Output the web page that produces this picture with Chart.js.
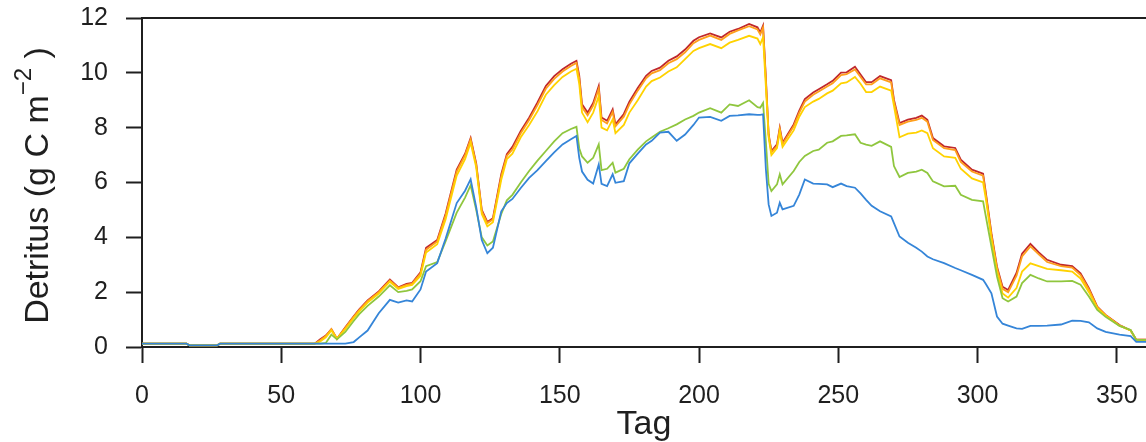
<!DOCTYPE html>
<html>
<head>
<meta charset="utf-8">
<script src="https://cdn.jsdelivr.net/npm/chart.js@4.4.0/dist/chart.umd.min.js"></script>
<style>
  html, body { margin: 0; padding: 0; background: #fff; overflow: hidden; }
  canvas { display: block; }
</style>
</head>
<body>
<canvas id="chartCanvas" width="1146" height="442"></canvas>
<script>
// day of year (x)
const days = [
  0, 16, 17, 27, 28, 62, 64, 66, 68, 70,
  73, 76, 78, 81, 85, 89, 92, 95, 97, 100,
  102, 106, 109, 113, 116, 118, 120, 122, 124, 126,
  129, 131, 133, 136, 139, 142, 145, 148, 151, 154,
  156, 157, 158, 160, 162, 164, 165, 167, 169, 170,
  173, 175, 178, 181, 183, 186, 189, 192, 195, 198,
  200, 204, 208, 211, 214, 218, 221, 222, 223, 224,
  225, 226, 228, 229, 230, 234, 236, 238, 241, 243,
  246, 248, 251, 253, 256, 258, 260, 262, 265, 269,
  270, 272, 275, 278, 280, 282, 284, 288, 292, 294,
  298, 302, 303, 305, 307, 309, 311, 314, 316, 319,
  322, 325, 330, 334, 337, 340, 343, 346, 351, 355,
  357, 361
];

// detritus, g C m-2
const blueSeries = [
  0.12, 0.12, 0.06, 0.06, 0.12, 0.12, 0.12, 0.12, 0.12, 0.12,
  0.12, 0.18, 0.35, 0.6, 1.23, 1.72, 1.62, 1.7, 1.66, 2.1,
  2.75, 3.06, 3.95, 5.25, 5.7, 6.12, 5.1, 3.9, 3.42, 3.62,
  4.95, 5.25, 5.4, 5.8, 6.17, 6.45, 6.78, 7.1, 7.39, 7.58,
  7.7, 6.9, 6.4, 6.1, 5.96, 6.66, 5.95, 5.87, 6.3, 5.99,
  6.05, 6.7, 7.05, 7.39, 7.52, 7.82, 7.85, 7.52, 7.75, 8.1,
  8.37, 8.39, 8.25, 8.43, 8.45, 8.49, 8.47, 8.47, 8.49, 6.5,
  5.2, 4.78, 4.9, 5.26, 5.02, 5.15, 5.56, 6.11, 5.96, 5.95,
  5.93, 5.83, 5.96, 5.87, 5.81, 5.6, 5.37, 5.15, 4.95, 4.76,
  4.52, 4.03, 3.8, 3.62, 3.48, 3.3, 3.2, 3.06, 2.88, 2.8,
  2.63, 2.45, 2.3, 1.96, 1.11, 0.85, 0.78, 0.68, 0.66, 0.77,
  0.77, 0.78, 0.82, 0.96, 0.95, 0.9, 0.68, 0.55, 0.45, 0.4,
  0.19, 0.19
];
const greenSeries = [
  0.12, 0.12, 0.06, 0.06, 0.12, 0.12, 0.12, 0.15, 0.45, 0.28,
  0.55, 0.95, 1.2, 1.5, 1.84, 2.25, 2.0, 2.05, 2.1, 2.4,
  2.95, 3.1, 3.85, 4.9, 5.45, 5.9, 5.0, 4.0, 3.7, 3.85,
  4.85, 5.35, 5.55, 6.0, 6.42, 6.8, 7.15, 7.5, 7.8, 7.95,
  8.03, 7.25, 6.95, 6.72, 6.9, 7.39, 6.45, 6.5, 6.72, 6.36,
  6.5, 6.85, 7.2, 7.5, 7.64, 7.85, 7.98, 8.12, 8.3, 8.43,
  8.55, 8.71, 8.55, 8.85, 8.79, 9.0, 8.75, 8.73, 8.9, 7.5,
  5.95, 5.69, 5.93, 6.3, 5.93, 6.42, 6.75, 6.97, 7.15, 7.2,
  7.45, 7.5, 7.7, 7.72, 7.76, 7.45, 7.38, 7.34, 7.5, 7.3,
  6.6, 6.2, 6.35, 6.4, 6.47, 6.35, 6.04, 5.86, 5.88, 5.55,
  5.37, 5.31, 4.76, 3.66, 2.57, 1.78, 1.66, 1.84, 2.33, 2.63,
  2.5, 2.39, 2.39, 2.41, 2.27, 1.84, 1.35, 1.1, 0.77, 0.62,
  0.26, 0.26
];
const yellowSeries = [
  0.12, 0.12, 0.06, 0.06, 0.12, 0.12, 0.2, 0.35, 0.6, 0.3,
  0.65, 1.05, 1.3, 1.62, 1.95, 2.38, 2.12, 2.22, 2.26, 2.6,
  3.45, 3.75, 4.65, 6.25, 6.85, 7.45, 6.55, 4.85, 4.4, 4.55,
  6.1, 6.85, 7.05, 7.65, 8.1, 8.6, 9.2, 9.55, 9.85, 10.05,
  10.15, 9.6, 8.55, 8.2, 8.55, 9.15, 8.0, 7.9, 8.3, 7.8,
  8.1, 8.55, 9.0, 9.5, 9.7, 9.83, 10.05, 10.2, 10.5, 10.8,
  10.9, 11.05, 10.9, 11.1, 11.2, 11.35, 11.25, 11.05, 11.3, 9.5,
  7.65, 7.0, 7.25, 7.85, 7.3, 7.9, 8.4, 8.75, 8.95, 9.05,
  9.25, 9.35, 9.62, 9.65, 9.85, 9.6, 9.3, 9.3, 9.5, 9.35,
  8.8, 7.65, 7.78, 7.82, 7.9, 7.8, 7.25, 6.95, 6.9, 6.5,
  6.15, 6.0, 5.4, 3.95, 2.75, 1.95, 1.8, 2.15, 2.75, 3.05,
  2.95, 2.85, 2.8, 2.75, 2.5, 2.0, 1.42, 1.14, 0.78, 0.6,
  0.26, 0.26
];
const orangeSeries = [
  0.12, 0.12, 0.06, 0.06, 0.12, 0.12, 0.25, 0.4, 0.65, 0.3,
  0.7, 1.1, 1.35, 1.67, 2.0, 2.43, 2.16, 2.27, 2.31, 2.68,
  3.55, 3.85, 4.8, 6.4, 7.0, 7.58, 6.65, 4.95, 4.52, 4.65,
  6.22, 6.97, 7.2, 7.8, 8.28, 8.82, 9.42, 9.78, 10.05, 10.25,
  10.36, 9.8, 8.75, 8.45, 8.8, 9.42, 8.28, 8.15, 8.58, 8.05,
  8.4, 8.85, 9.35, 9.8, 9.98, 10.1, 10.35, 10.5, 10.75, 11.08,
  11.2, 11.36, 11.2, 11.42, 11.55, 11.7, 11.58, 11.4, 11.65, 9.75,
  7.72, 7.1, 7.33, 7.95, 7.4, 8.05, 8.55, 8.95, 9.2, 9.32,
  9.5, 9.62, 9.92, 9.95, 10.12, 9.85, 9.58, 9.58, 9.8, 9.65,
  8.95, 8.1, 8.22, 8.28, 8.36, 8.22, 7.55, 7.25, 7.18, 6.75,
  6.4, 6.25, 5.55, 4.08, 2.87, 2.12, 2.0, 2.6, 3.3, 3.67,
  3.38, 3.1, 2.95, 2.9, 2.62, 2.1, 1.45, 1.16, 0.78, 0.6,
  0.27, 0.27
];
const redSeries = [
  0.12, 0.12, 0.06, 0.06, 0.12, 0.12, 0.28, 0.42, 0.65, 0.3,
  0.72, 1.12, 1.37, 1.7, 2.03, 2.46, 2.18, 2.3, 2.34, 2.72,
  3.62, 3.9, 4.86, 6.47, 7.05, 7.62, 6.7, 5.0, 4.56, 4.7,
  6.3, 7.03, 7.3, 7.88, 8.36, 8.92, 9.52, 9.88, 10.13, 10.33,
  10.44, 9.9, 8.85, 8.55, 8.9, 9.52, 8.37, 8.25, 8.67, 8.12,
  8.5, 8.95, 9.45, 9.89, 10.07, 10.19, 10.44, 10.6, 10.85, 11.17,
  11.3, 11.44, 11.29, 11.5, 11.6, 11.78, 11.66, 11.47, 11.72, 9.83,
  7.76, 7.15, 7.39, 8.0, 7.45, 8.12, 8.62, 9.04, 9.28, 9.4,
  9.58, 9.71, 10.01, 10.02, 10.22, 9.94, 9.66, 9.66, 9.88, 9.73,
  9.02, 8.17, 8.29, 8.36, 8.44, 8.29, 7.62, 7.32, 7.26, 6.83,
  6.47, 6.32, 5.62, 4.15, 2.93, 2.2, 2.08, 2.7, 3.4, 3.76,
  3.45, 3.18, 3.0, 2.95, 2.69, 2.15, 1.47, 1.17, 0.8, 0.6,
  0.27, 0.27
];

const AXIS = "#1f1f1f";
const FAMILY = "'Liberation Sans', Arial, sans-serif";

const toPoints = (vals) => vals.map((v, i) => ({ x: days[i], y: v }));

const line = (vals, color) => ({
  data: toPoints(vals),
  borderColor: color,
  borderWidth: 1.8,
  pointRadius: 0,
  tension: 0,
  fill: false,
});

// y title with a real superscript, plus the top frame line
const frameAndTitle = {
  id: "frameAndTitle",
  afterDraw(chart) {
    const { ctx, chartArea } = chart;
    ctx.save();
    ctx.strokeStyle = AXIS;
    ctx.lineWidth = 2;
    ctx.beginPath();
    ctx.moveTo(chartArea.left, chartArea.top);
    ctx.lineTo(chartArea.right, chartArea.top);
    ctx.stroke();

    ctx.fillStyle = AXIS;
    ctx.translate(39, (chartArea.top + chartArea.bottom) / 2 + 3);
    ctx.rotate(-Math.PI / 2);
    ctx.textBaseline = "middle";
    ctx.textAlign = "left";
    const main = "Detritus (g C m", sup = "\u22122", tail = " )";
    ctx.font = `34px ${FAMILY}`;
    const w1 = ctx.measureText(main).width;
    const w3 = ctx.measureText(tail).width;
    ctx.font = `24px ${FAMILY}`;
    const w2 = ctx.measureText(sup).width;
    const x0 = -(w1 + w2 + w3) / 2;
    ctx.font = `34px ${FAMILY}`;
    ctx.fillText(main, x0, 0);
    ctx.font = `24px ${FAMILY}`;
    ctx.fillText(sup, x0 + w1, -15);
    ctx.font = `34px ${FAMILY}`;
    ctx.fillText(tail, x0 + w1 + w2, 0);
    ctx.restore();
  },
};

new Chart(document.getElementById("chartCanvas").getContext("2d"), {
  type: "line",
  data: {
    datasets: [
      line(blueSeries, "#3585d8"),
      line(greenSeries, "#8fc63e"),
      line(yellowSeries, "#ffd200"),
      line(orangeSeries, "#ff9f1c"),
      line(redSeries, "#c0282c"),
    ],
  },
  options: {
    responsive: false,
    animation: false,
    layout: { padding: { top: 18, left: 0, right: 0, bottom: 0 } },
    plugins: { legend: { display: false }, tooltip: { enabled: false } },
    scales: {
      x: {
        type: "linear",
        min: 0,
        max: 360.5,
        afterFit: (s) => { s.height = 95; s.paddingLeft = 0; s.paddingRight = 0; },
        border: { display: true, color: AXIS, width: 2 },
        grid: { drawOnChartArea: false, drawTicks: true, tickLength: 16, tickColor: AXIS, tickWidth: 2 },
        ticks: {
          stepSize: 50, includeBounds: false, padding: 18, color: AXIS,
          maxRotation: 0, autoSkip: false,
          font: { family: FAMILY, size: 25 },
        },
        title: {
          display: true, text: "Tag", color: AXIS, padding: { top: 0, bottom: -3 },
          font: { family: FAMILY, size: 34 },
        },
      },
      y: {
        min: 0,
        max: 12,
        afterFit: (s) => { s.width = 142; s.paddingTop = 0; s.paddingBottom = 0; },
        border: { display: true, color: AXIS, width: 2 },
        grid: { drawOnChartArea: false, drawTicks: true, tickLength: 16, tickColor: AXIS, tickWidth: 2 },
        ticks: {
          stepSize: 2, padding: 18, color: AXIS,
          font: { family: FAMILY, size: 25 },
        },
      },
    },
  },
  plugins: [frameAndTitle],
});
</script>
</body>
</html>
